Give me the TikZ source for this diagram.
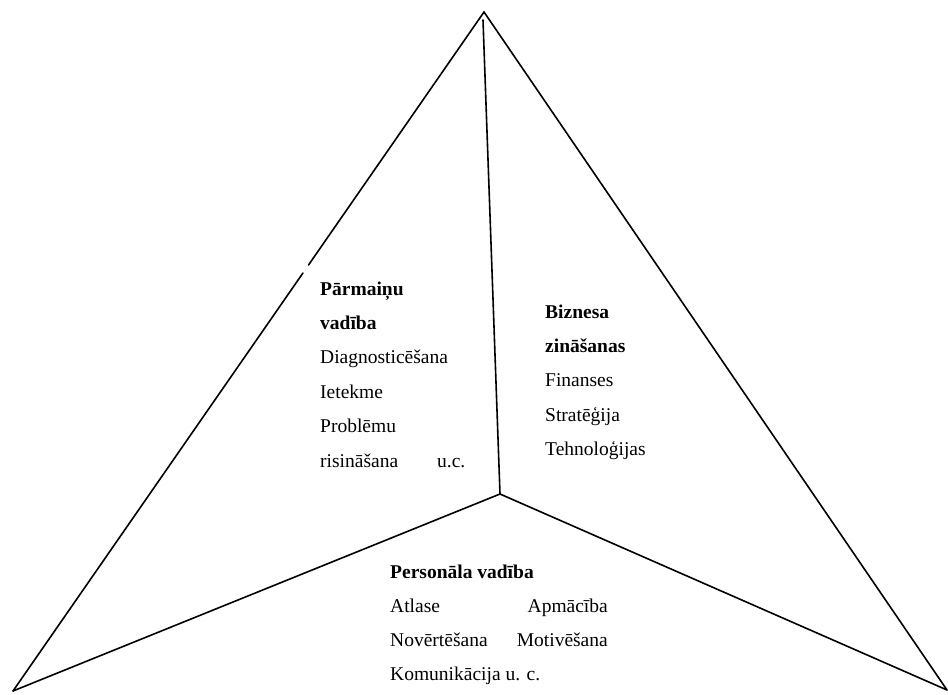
\documentclass[tikz,border=0pt]{standalone}
\usepackage{fontspec}
\setmainfont{Liberation Serif}
\usetikzlibrary{calc}
\begin{document}
\begin{tikzpicture}[x=1pt,y=-1pt,
  edge/.style={line width=1.6pt, line cap=round, line join=miter},
  lbl/.style={inner sep=0pt, anchor=base west, font=\fontsize{19.5}{34.4}\selectfont},
  lblr/.style={lbl, anchor=base east},
  head/.style={lbl, font=\fontsize{19.5}{34.4}\selectfont\bfseries}]
\useasboundingbox (0,0) rectangle (948,694);

% pyramid corners and centre
\coordinate (A) at (484,12);
\coordinate (L) at (13,691);
\coordinate (R) at (947,690);
\coordinate (C) at (500,494);
\coordinate (T) at (483,20);
% short break in the left edge
\coordinate (g1) at ($(A)!0.3726!(L)$);
\coordinate (g2) at ($(A)!0.3844!(L)$);

\draw[edge] (g1) -- (A) -- (R);
\draw[edge] (g2) -- (L);
\draw[edge] (C) -- (T);
\draw[edge] (C) -- (L);
\draw[edge] (C) -- (R);

% left face
\node[head] (p1) at (320,295) {Pārmaiņu};
\node[head] (p2) at (320,329.4) {vadība};
\node[lbl]  (p3) at (320,363.8) {Diagnosticēšana};
\node[lbl]  (p4) at (320,398.2) {Ietekme};
\node[lbl]  (p5) at (320,432.6) {Problēmu};
\node[lbl]  (p6) at (320,467) {risināšana};
\node[lbl]  (p7) at (437,467) {u.c.};

% right face
\node[head] (b1) at (545,318) {Biznesa};
\node[head] (b2) at (545,352.4) {zināšanas};
\node[lbl]  (b3) at (545,386.8) {Finanses};
\node[lbl]  (b4) at (545,421.2) {Stratēģija};
\node[lbl]  (b5) at (545,455.6) {Tehnoloģijas};

% bottom face
\node[head] (v1) at (390,578) {Personāla vadība};
\node[lbl]  (v2) at (390,612) {Atlase};
\node[lblr] (v3) at (608,612) {Apmācība};
\node[lbl]  (v4) at (390,646) {Novērtēšana};
\node[lblr] (v5) at (608,646) {Motivēšana};
\node[lbl]  (v6) at (390,680) {Komunikācija u. c.};
\end{tikzpicture}
\end{document}
